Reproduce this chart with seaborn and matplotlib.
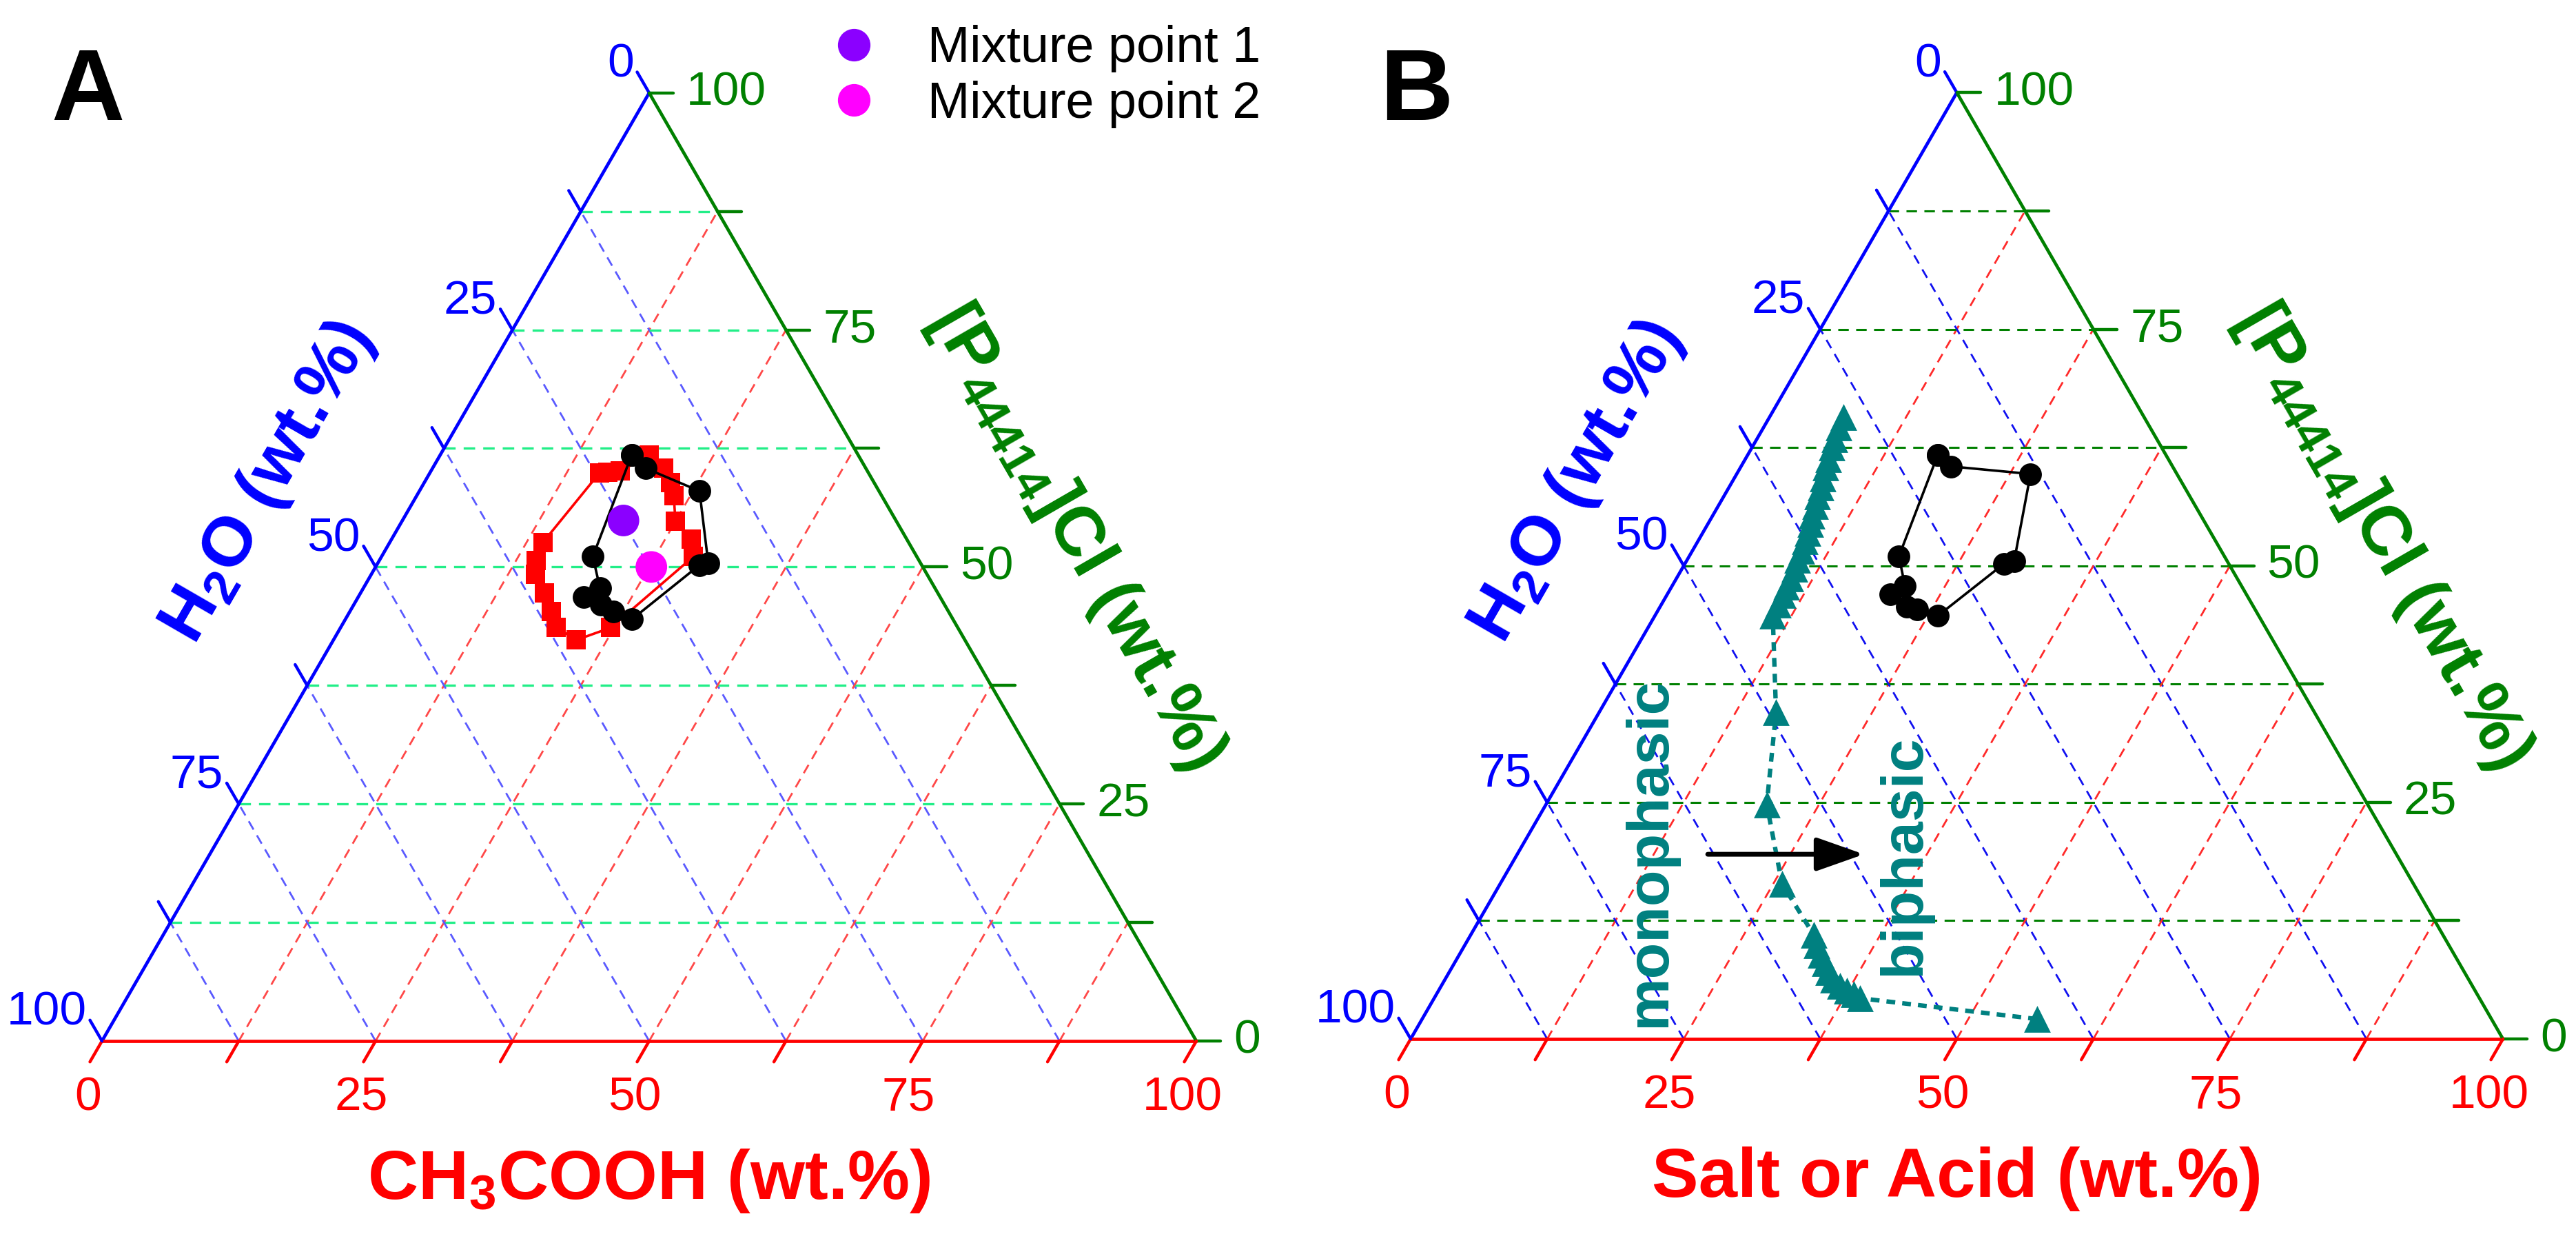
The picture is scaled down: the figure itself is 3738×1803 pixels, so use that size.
import numpy as np
import pandas as pd
import seaborn as sns
import matplotlib.pyplot as plt
from matplotlib.lines import Line2D

# values, in wt.% : bottom axis (acid / salt) and right axis ([P44414]Cl)
a_black_acid = [17.5, 19.5, 25.6, 30.2, 29.5, 26.2, 24.1, 22.6, 20.6, 21.6, 19.3]
a_black_il = [61.8, 60.4, 58.0, 50.4, 50.2, 44.5, 45.3, 46.0, 46.8, 47.8, 51.1]
a_red_acid = [19.1, 21.1, 22.5, 23.5, 25.0, 27.4, 28.5, 24.7, 22.2, 19.7, 18.4, 16.8,
              15.0, 14.3, 14.0, 15.5, 16.2, 17.3]
a_red_il = [61.8, 60.4, 58.9, 57.5, 54.8, 52.9, 51.1, 43.6, 42.3, 43.6, 45.3, 47.3,
            49.2, 50.7, 52.6, 59.9, 60.0, 60.1]
mix_acid = [20.2, 25.2]
mix_il = [54.9, 50.0]
mix_names = ['Mixture point 1', 'Mixture point 2']
mix_colors = ['#8B00FF', '#FF00FF']

b_black_acid = [17.4, 19.2, 26.9, 30.0, 29.2, 25.9, 23.7, 22.6, 20.4, 21.3, 19.2]
b_black_il = [61.7, 60.5, 59.7, 50.5, 50.2, 44.7, 45.4, 45.7, 47.0, 47.9, 51.0]
b_teal_salt = [6.8, 6.9, 7.1, 7.3, 7.6, 7.8, 8.1, 8.4, 8.6, 8.9, 9.1, 9.4, 9.6, 9.8,
               10.0, 10.1, 10.3, 10.4, 10.5, 10.6, 10.7, 10.8,
               16.2, 20.2, 25.8,
               31.4, 32.2, 33.1, 33.9, 34.7, 35.5, 36.5, 37.4, 38.2, 39.0,
               56.3]
b_teal_il = [65.7, 64.6, 63.4, 62.5, 61.3, 60.4, 59.2, 58.3, 57.3, 56.3, 55.3, 54.4, 53.5, 52.6,
             51.6, 50.6, 49.7, 48.7, 47.8, 46.9, 45.9, 44.7,
             34.5, 24.8, 16.4,
             11.0, 9.9, 8.9, 8.0, 7.1, 6.3, 5.6, 5.1, 4.7, 4.3,
             2.1]

tick_values = [0, 25, 50, 75, 100]

sns.set_style('white')
plt.rcParams['font.family'] = ['Liberation Sans', 'DejaVu Sans']
plt.rcParams['text.color'] = 'black'
plt.rcParams['mathtext.fontset'] = 'custom'
plt.rcParams['mathtext.rm'] = 'Liberation Sans'
plt.rcParams['mathtext.bf'] = 'Liberation Sans:bold'
plt.rcParams['mathtext.default'] = 'regular'

H = np.sqrt(3) / 2
FW, FH = 3738, 1803
BLUE, RED, GREEN = '#0000FF', '#FF0000', '#008000'
TEAL = '#008080'
TICK_FS, TITLE_FS = 50, 73


def tern(acid, il):
    a = np.asarray(acid, dtype=float) / 100
    c = np.asarray(il, dtype=float) / 100
    return pd.DataFrame({'x': a + c / 2, 'y': c * H})


def closed(df):
    return pd.concat([df, df.iloc[:1]], ignore_index=True)


fig = plt.figure(figsize=(FW / 100, FH / 100), dpi=100)


def panel(bl_x, bl_y, w):
    x0, x1, y0, y1 = -0.12, 1.25, -0.2, 0.96
    ax = fig.add_axes([(bl_x + x0 * w) / FW, (FH - bl_y + y0 * w) / FH,
                       (x1 - x0) * w / FW, (y1 - y0) * w / FH])
    ax.set_xlim(x0, x1)
    ax.set_ylim(y0, y1)
    ax.axis('off')
    return ax


def frame(ax, gcol, rcol, bcol, glw):
    dash = (0, (5, 3.5))
    for k in range(1, 8):
        f = k / 8
        ax.plot([f / 2, 1 - f / 2], [f * H, f * H], color=gcol, ls=dash, lw=glw, zorder=1)
        ax.plot([f, f + (1 - f) / 2], [0, (1 - f) * H], color=rcol, ls=dash, lw=2.0, zorder=1)
        ax.plot([1 - f, (1 - f) / 2], [0, (1 - f) * H], color=bcol, ls=dash, lw=2.0, zorder=1)
    ax.plot([0, 0.5], [0, H], color=BLUE, lw=3.4, zorder=3)
    ax.plot([0, 1], [0, 0], color=RED, lw=3.4, zorder=3)
    ax.plot([1, 0.5], [0, H], color=GREEN, lw=3.4, zorder=3)
    L = 0.022
    for k in range(9):
        f = k / 8
        ax.plot([f, f - 0.5 * L], [0, -H * L], color=RED, lw=3.2, zorder=3)
        px, py = (1 - f) / 2, (1 - f) * H
        ax.plot([px, px - 0.5 * L], [py, py + H * L], color=BLUE, lw=3.2, zorder=3)
        qx, qy = 1 - f / 2, f * H
        ax.plot([qx, qx + L], [qy, qy], color=GREEN, lw=3.2, zorder=3)
    for t in tick_values:
        f = t / 100
        ax.text(f - 0.013, -0.052, str(t), color=RED, fontsize=TICK_FS, ha='center', va='center')
        ax.text((1 - f) / 2 - 0.014, (1 - f) * H + 0.026, str(t), color=BLUE, fontsize=TICK_FS,
                ha='right', va='center')
        ax.text(1 - f / 2 + 0.034, f * H, str(t), color=GREEN, fontsize=TICK_FS,
                ha='left', va='center')
    ax.text(0.152, 0.510, 'H$_2$O (wt.%)', color=BLUE, fontsize=TITLE_FS, fontweight='bold',
            rotation=60, ha='center', va='center', rotation_mode='anchor')
    ax.text(0.890, 0.460, '[P$_{44414}$]Cl (wt.%)', color=GREEN, fontsize=TITLE_FS,
            fontweight='bold', rotation=-60, ha='center', va='center', rotation_mode='anchor')


# ---- panel A
axA = panel(148, 1510, 1588)
frame(axA, '#22EE88', '#FF4848', '#5A5AFF', 2.4)
axA.text(0.5, -0.128, 'CH$_3$COOH (wt.%)', color=RED, fontsize=TITLE_FS, fontweight='bold',
         ha='center', va='center')
axA.text(-0.013, 0.865, 'A', color='black', fontsize=106, fontweight='bold',
         ha='center', va='center')

red_df = closed(tern(a_red_acid, a_red_il))
sns.lineplot(data=red_df, x='x', y='y', sort=False, estimator=None, color=RED,
             lw=2.6, ax=axA, zorder=4)
sns.scatterplot(data=red_df, x='x', y='y', marker='s', s=420, color=RED, linewidth=0,
                ax=axA, zorder=5)
blkA = closed(tern(a_black_acid, a_black_il))
sns.lineplot(data=blkA, x='x', y='y', sort=False, estimator=None, color='black',
             lw=2.6, ax=axA, zorder=6)
sns.scatterplot(data=blkA, x='x', y='y', marker='o', s=560, color='black', linewidth=0,
                ax=axA, zorder=7)
mix_df = tern(mix_acid, mix_il)
mix_df['name'] = mix_names
sns.scatterplot(data=mix_df, x='x', y='y', hue='name', palette=dict(zip(mix_names, mix_colors)),
                s=1090, linewidth=0, ax=axA, zorder=8, legend=False)
handles = [Line2D([], [], marker='o', ls='', ms=33, color=c, mec=c) for c in mix_colors]
axA.legend(handles, mix_names, loc='center left', bbox_to_anchor=(1202 / FW, 1 - 111 / FH),
           bbox_transform=fig.transFigure, frameon=False, fontsize=53, handlelength=1.0,
           handletextpad=0.95, labelspacing=0.15, borderpad=0, borderaxespad=0,
           labelcolor='black')

# ---- panel B
axB = panel(2047, 1507, 1585)
frame(axB, GREEN, '#FF2A2A', '#1010F0', 2.2)
axB.text(0.5, -0.128, 'Salt or Acid (wt.%)', color=RED, fontsize=TITLE_FS, fontweight='bold',
         ha='center', va='center')
axB.text(0.005, 0.865, 'B', color='black', fontsize=106, fontweight='bold',
         ha='center', va='center')

blkB = closed(tern(b_black_acid, b_black_il))
sns.lineplot(data=blkB, x='x', y='y', sort=False, estimator=None, color='black',
             lw=2.6, ax=axB, zorder=6)
sns.scatterplot(data=blkB, x='x', y='y', marker='o', s=560, color='black', linewidth=0,
                ax=axB, zorder=7)
teal_df = tern(b_teal_salt, b_teal_il)
sns.lineplot(data=teal_df, x='x', y='y', sort=False, estimator=None, color=TEAL,
             lw=4.6, ax=axB, zorder=4, dashes=False, linestyle=(0, (2, 1.6)))
sns.scatterplot(data=teal_df, x='x', y='y', marker='^', s=780, color=TEAL, linewidth=0,
                ax=axB, zorder=5)

axB.annotate('', xy=(0.415, 0.169), xytext=(0.272, 0.169),
             arrowprops=dict(arrowstyle='-|>,head_length=0.85,head_width=0.3', lw=5,
                             color='black', shrinkA=0, shrinkB=0, mutation_scale=50),
             zorder=9)
axB.text(0.219, 0.171, 'monophasic', color=TEAL, fontsize=62, fontweight='bold',
         rotation=90, ha='center', va='center')
axB.text(0.452, 0.168, 'biphasic', color=TEAL, fontsize=62, fontweight='bold',
         rotation=90, ha='center', va='center')

fig.savefig('out.png', dpi=100)
